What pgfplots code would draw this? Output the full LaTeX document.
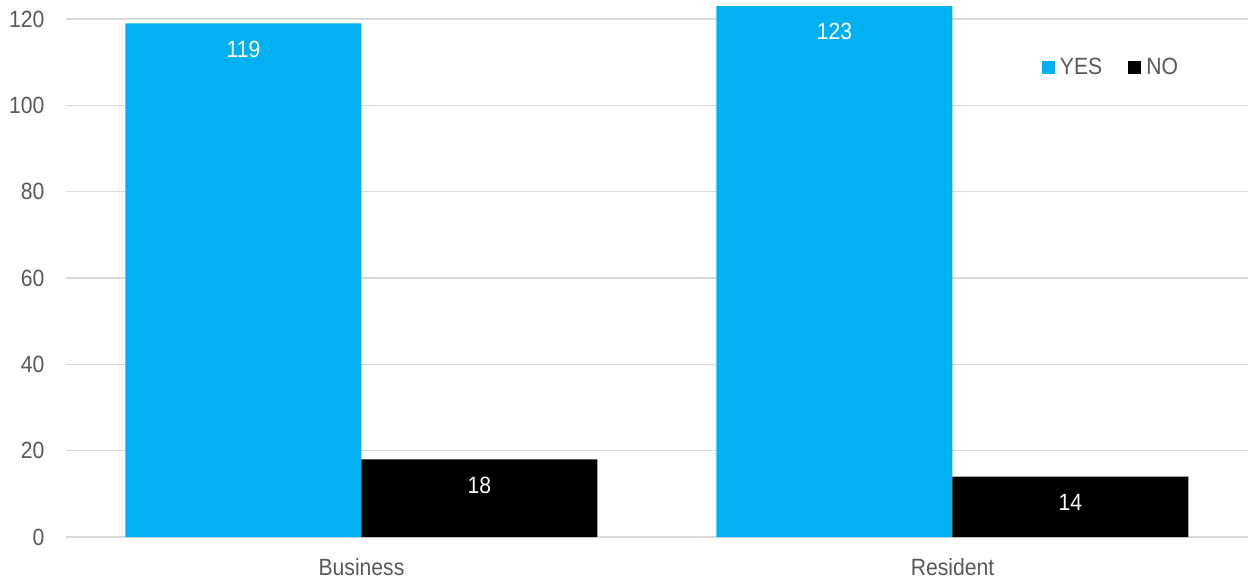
\documentclass[border=0pt]{standalone}
\usepackage{fontspec}
\setmainfont{Liberation Sans}[FakeStretch=0.9]
\usepackage{pgfplots}
\pgfplotsset{compat=1.18}
\definecolor{yescol}{HTML}{00B0F0}
\definecolor{txt}{HTML}{595959}
\definecolor{gridc}{HTML}{D9D9D9}
\begin{document}
\begin{tikzpicture}
\begin{axis}[
  at={(66pt,44pt)}, anchor=south west,
  scale only axis, width=1182pt, height=537pt,
  ybar=0pt, bar width=236pt,
  xmin=-0.5, xmax=1.5, ymin=0, ymax=124.4,
  xtick={0,1}, xticklabels={Business,Resident},
  ytick={0,20,...,120},
  ymajorgrids, grid style={gridc, line width=1.2pt},
  axis line style={draw=none},
  major tick length=0pt,
  tick label style={font=\fontsize{23.5}{27}\selectfont, text=txt},
  /pgf/number format/assume math mode=true,
  yticklabel style={xshift=-18pt},
  xticklabel style={yshift=-18pt},
  nodes near coords,
  every node near coord/.append style={anchor=north, yshift=-14pt, text=white, font=\fontsize{23.5}{27}\selectfont},
  legend style={draw=none, fill=none, at={(0.823,0.875)}, anchor=west,
    legend columns=2, font=\fontsize{23.5}{27}\selectfont, text=txt,
    /tikz/every odd column/.append style={column sep=3pt},
    /tikz/every even column/.append style={column sep=24pt}},
  legend image code/.code={\fill[#1] (0pt,-6.5pt) rectangle (13pt,6.5pt);},
]
\addplot[fill=yescol, draw=none] coordinates {(0,119) (1,123)};
\addplot[fill=black, draw=none] coordinates {(0,18) (1,14)};
\legend{YES,NO}
\end{axis}
\pgfresetboundingbox
\path[use as bounding box] (0,0) rectangle (1248pt,581pt);
\end{tikzpicture}
\end{document}
